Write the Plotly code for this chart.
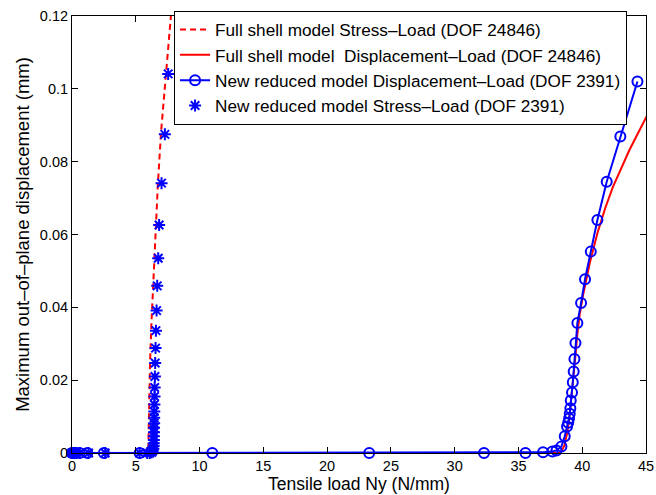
import plotly.graph_objects as go

# Full shell model Stress-Load (red dashed)
fs_stress_x = [0, 5.98, 6.02, 6.06, 6.12, 6.22, 6.35, 6.52, 6.72, 6.98, 7.25, 7.5, 7.78, 7.9]
fs_stress_y = [0, 0, 0.008, 0.016, 0.025, 0.035, 0.046, 0.06, 0.073, 0.088, 0.1, 0.11, 0.121, 0.126]

# Full shell model Displacement-Load (red solid)
fs_disp_x = [0, 38.3, 38.6, 38.85, 39.0, 39.15, 39.3, 39.45, 39.6, 39.8, 40.04, 40.6, 41.2, 41.8,
             42.4, 43.0, 43.7, 44.4, 45.03, 45.5]
fs_disp_y = [0, 0, 0.002, 0.006, 0.01, 0.015, 0.02, 0.026, 0.032, 0.038, 0.0429, 0.0523, 0.0605, 0.0672,
             0.073, 0.0778, 0.0832, 0.088, 0.0923, 0.0955]

# New reduced model Displacement-Load (blue circles)
rm_disp_x = [0, 0.08, 0.16, 0.3, 0.6, 1.2, 2.5, 5.3, 11.0, 23.3, 32.3, 35.55, 36.93, 37.66, 37.98,
             38.37, 38.63, 38.81, 38.9, 38.97, 39.02, 39.07, 39.1, 39.2, 39.26, 39.33, 39.39,
             39.47, 39.62, 39.91, 40.22, 40.67, 41.19, 41.92, 42.99, 44.33]
rm_disp_y = [0, 0, 0, 0, 0, 0, 0, 0, 0, 0, 0, 0, 0.0002, 0.0004, 0.0007,
             0.0018, 0.0046, 0.0073, 0.0083, 0.0095, 0.0108, 0.0123, 0.0144, 0.0166, 0.0194, 0.0224, 0.0258,
             0.0302, 0.0357, 0.0412, 0.0477, 0.0553, 0.064, 0.0745, 0.0869, 0.102]

# New reduced model Stress-Load (blue stars)
rm_stress_x = [0, 0.08, 0.16, 0.3, 0.6, 1.3, 2.6, 5.3, 5.9, 6.1,
               6.25, 6.33, 6.38, 6.4, 6.41, 6.42, 6.42, 6.43, 6.43, 6.44,
               6.44, 6.45, 6.46, 6.47, 6.48, 6.5, 6.52, 6.55, 6.58, 6.63,
               6.68, 6.76, 6.83, 7.02, 7.28, 7.54]
rm_stress_y = [0, 0, 0, 0, 0, 0, 0, 0, 0, 0,
               0.0002, 0.0006, 0.0012, 0.0019, 0.0027, 0.0036, 0.0046, 0.0057, 0.0069, 0.0082,
               0.0097, 0.0114, 0.0133, 0.0155, 0.018, 0.021, 0.0247, 0.0288, 0.0336, 0.0391,
               0.0459, 0.0535, 0.0626, 0.0741, 0.0875, 0.1041]

x_ticks = [0, 5, 10, 15, 20, 25, 30, 35, 40, 45]
y_ticks = [0, 0.02, 0.04, 0.06, 0.08, 0.1, 0.12]
y_tick_labels = ["0", "0.02", "0.04", "0.06", "0.08", "0.1", "0.12"]

RED = "#ff0000"
BLUE = "#0000ff"

fig = go.Figure()
fig.add_trace(go.Scatter(
    x=fs_stress_x, y=fs_stress_y, mode="lines",
    name="Full shell model Stress\u2013Load (DOF 24846)",
    line=dict(color=RED, width=2, dash="6px,4px"),
))
fig.add_trace(go.Scatter(
    x=fs_disp_x, y=fs_disp_y, mode="lines",
    name="Full shell model \u00a0Displacement\u2013Load (DOF 24846)",
    line=dict(color=RED, width=2),
))
fig.add_trace(go.Scatter(
    x=rm_disp_x, y=rm_disp_y, mode="lines+markers",
    name="New reduced model Displacement\u2013Load (DOF 2391)",
    line=dict(color=BLUE, width=2),
    marker=dict(symbol="circle-open", size=10, color=BLUE, line=dict(width=2, color=BLUE)),
    cliponaxis=False,
))
fig.add_trace(go.Scatter(
    x=rm_stress_x, y=rm_stress_y, mode="markers",
    name="New reduced model Stress\u2013Load (DOF 2391)",
    marker=dict(symbol="asterisk-open", size=10, color=BLUE, line=dict(width=2, color=BLUE)),
    cliponaxis=False,
))

axis_common = dict(
    showline=True, linecolor="black", linewidth=1, mirror="ticks",
    ticks="inside", ticklen=6, tickcolor="black", tickwidth=1,
    showgrid=False, zeroline=False, automargin=False,
    tickfont=dict(family="Liberation Sans, Arial, sans-serif", size=14.5, color="black"),
)

fig.update_layout(
    width=656, height=495,
    margin=dict(l=72, r=10, t=16, b=42),
    paper_bgcolor="white", plot_bgcolor="white",
    font=dict(family="Liberation Sans, Arial, sans-serif", size=14, color="black"),
    xaxis=dict(range=[0, 45], tickmode="array", tickvals=x_ticks,
               title=dict(text="Tensile load Ny (N/mm)", standoff=0,
                          font=dict(size=17.5)), **axis_common),
    yaxis=dict(range=[0, 0.12], tickmode="array", tickvals=y_ticks, ticktext=y_tick_labels,
               title=dict(text="Maximum out\u2013of\u2013plane displacement (mm)", standoff=5,
                          font=dict(size=18.5)), **axis_common),
    legend=dict(
        x=0.967, xanchor="right", y=1.012, yanchor="top",
        bgcolor="white", bordercolor="black", borderwidth=1,
        font=dict(size=17.2), itemwidth=30, tracegroupgap=0,
    ),
    showlegend=True,
)

fig.write_html("out.html")
